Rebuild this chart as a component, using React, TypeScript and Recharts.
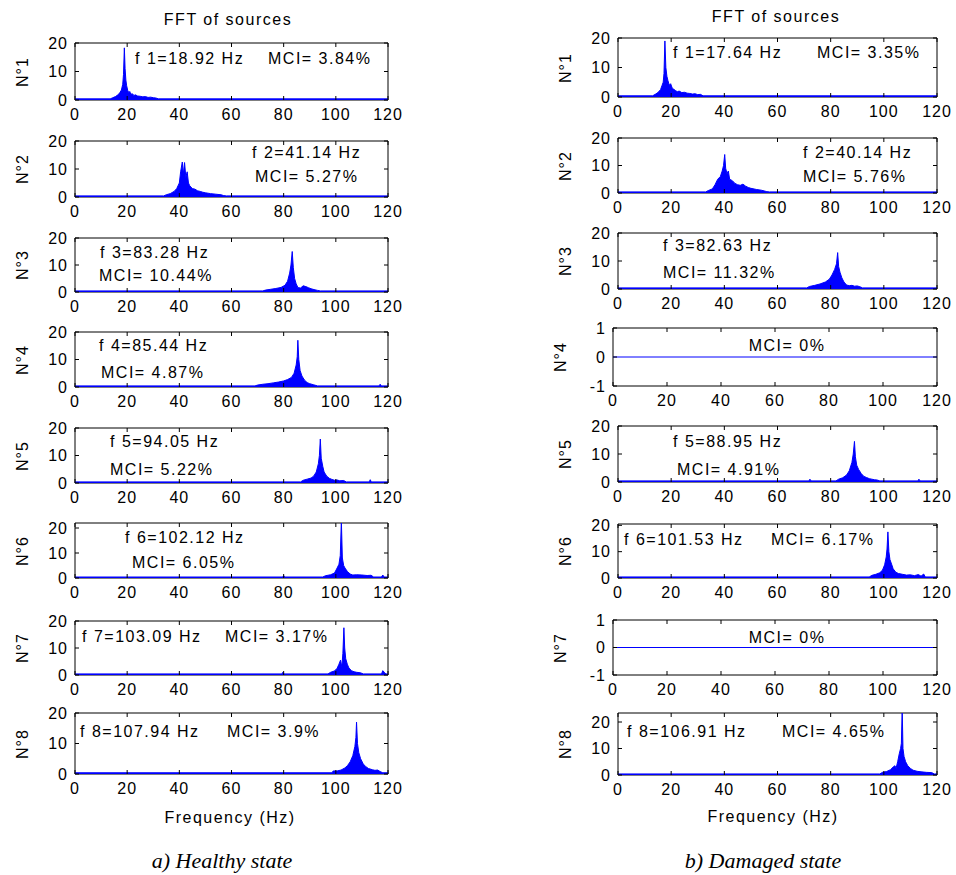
import React from 'react'
import { Area, AreaChart, ReferenceArea, XAxis, YAxis } from 'recharts'

type Pt = [number, number]

interface Note {
  text: string
  dx: number
  cy: number
  center?: boolean
}

// axis ticks
const freqTicks = [0, 20, 40, 60, 80, 100, 120]
const ampTicks = [0, 10, 20]
const flatTicks = [-1, 0, 1]

// spectra, [frequency (Hz), amplitude]
const healthy1: Pt[] = [
  [0, 0.4], [13.5, 0.4], [14.5, 0.8], [15.5, 1.2], [16.5, 1.8], [17.2, 2.6], [17.8, 3.5], [18.3, 5.5],
  [18.6, 9], [18.92, 18.3], [19.2, 11], [19.5, 7], [19.8, 5], [20.2, 3.4], [20.6, 2.6], [21, 3],
  [21.4, 2], [22, 2.2], [22.6, 1.6], [23.2, 1.8], [24, 1.4], [25, 1.3], [26, 1.1], [27, 1.2],
  [28, 0.9], [29, 1], [30, 0.8], [31, 0.7], [32, 0.4], [120, 0.4],
]
const healthy2: Pt[] = [
  [0, 0.4], [34, 0.4], [35, 0.8], [36.5, 1.2], [38, 2], [39, 3], [40, 5], [40.5, 9], [41.14, 12.5],
  [41.5, 8], [42, 12.3], [42.5, 7], [43, 9], [43.5, 5], [44, 4], [45, 3], [46, 2.8], [47, 2.2],
  [48, 2], [49, 1.7], [50, 1.5], [52, 1.2], [54, 1], [56, 0.8], [57, 0.5], [58, 0.4], [120, 0.4],
]
const healthy3: Pt[] = [
  [0, 0.4], [72, 0.4], [73, 0.7], [75, 1], [77, 1.3], [79, 1.7], [80.5, 2.5], [81.5, 4], [82.3, 7],
  [82.8, 10], [83.28, 15], [83.7, 9], [84.2, 5], [84.8, 3], [85.5, 1.6], [86.5, 1.5], [87.5, 2.3],
  [88.5, 2], [89.5, 1.6], [90.5, 1.2], [92, 0.8], [93, 0.6], [94, 0.4], [120, 0.4],
]
const healthy4: Pt[] = [
  [0, 0.4], [69, 0.4], [70, 0.7], [72, 1], [74, 1.2], [76, 1.5], [78, 1.8], [80, 2.2], [81.5, 2.7],
  [83, 3.5], [84, 5], [84.8, 8], [85.2, 11], [85.44, 17], [85.8, 10], [86.3, 6], [87, 4], [88, 2.5],
  [89, 1.6], [90, 1.2], [91.5, 0.8], [93, 0.4], [116.5, 0.4], [117, 1], [117.5, 0.4], [120, 0.4],
]
const healthy5: Pt[] = [
  [0, 0.4], [86.5, 0.4], [87.5, 1], [89, 1.4], [90.5, 1.8], [91.5, 2.5], [92.5, 4], [93.3, 7],
  [93.7, 10], [94.05, 16], [94.4, 9], [95, 6], [95.5, 4], [96.5, 2.5], [97.5, 1.7], [98.5, 1.3],
  [99.5, 1], [100.5, 1.1], [101.5, 0.8], [103, 0.9], [104, 0.4], [112.8, 0.4], [113.2, 1.2],
  [113.6, 0.4], [120, 0.4],
]
const healthy6: Pt[] = [
  [0, 0.4], [79.6, 0.4], [80, 0.9], [80.4, 0.4], [95, 0.4], [96, 0.9], [98, 1.3], [99.5, 2],
  [100.5, 4], [101.2, 5.5], [101.7, 9], [102.12, 23], [102.5, 8], [103, 5], [103.5, 4], [104.5, 2.5],
  [105.5, 1.6], [106.5, 1.2], [108, 1.3], [110, 1.2], [112, 1], [113.5, 1.1], [114.5, 0.4],
  [117.5, 0.4], [118, 1.2], [118.5, 0.4], [120, 0.4],
]
const healthy7: Pt[] = [
  [0, 0.4], [79.3, 0.4], [79.7, 1], [80.1, 0.4], [97, 0.4], [98, 1], [99.5, 1.5], [100.5, 2.5],
  [101.2, 4], [101.8, 5.5], [102.3, 3], [102.7, 8], [103.09, 17.5], [103.4, 10], [103.8, 6],
  [104.4, 4], [105, 2.6], [106, 1.6], [107, 1.2], [108, 1], [109.5, 0.8], [110.5, 0.4], [117.5, 0.4],
  [118, 1.6], [118.6, 1], [119.2, 0.4], [120, 0.4],
]
const healthy8: Pt[] = [
  [0, 0.4], [98.5, 0.4], [99, 1], [100.5, 1], [102, 1.3], [103.5, 2], [104.5, 2.8], [105.5, 4],
  [106.5, 6], [107.3, 9], [107.7, 12], [107.94, 17], [108.3, 10], [108.8, 7], [109.5, 5], [110.5, 3.3],
  [111.5, 2.4], [112.5, 1.8], [114, 1.4], [115, 1.2], [116, 1.3], [117, 0.8], [118, 0.4], [120, 0.4],
]

const damaged1: Pt[] = [
  [0, 0.4], [13, 0.4], [14, 0.9], [15, 1.5], [16, 2.5], [16.6, 4], [17, 5], [17.3, 8], [17.64, 19],
  [18, 10], [18.4, 7], [18.8, 5.5], [19.3, 4], [19.8, 4.5], [20.4, 3], [21, 2.6], [21.6, 2.2],
  [22.3, 1.8], [23, 2], [24, 1.5], [25, 1.6], [26, 1.3], [27, 1.2], [28, 1], [29, 1.1], [30, 0.8],
  [31, 0.9], [32, 0.4], [120, 0.4],
]
const damaged2: Pt[] = [
  [0, 0.4], [33, 0.4], [34, 0.9], [35.5, 1.5], [36.5, 3], [37.5, 5], [38.5, 6], [39.2, 8], [39.7, 10],
  [40.14, 14], [40.5, 9], [41, 7], [41.5, 8], [42, 5], [43, 4.5], [44, 3.5], [45, 3], [46, 2.8],
  [47, 3.2], [48, 2.5], [49, 2], [50, 1.7], [52, 1.3], [54, 1], [56, 0.5], [57, 0.4], [120, 0.4],
]
const damaged3: Pt[] = [
  [0, 0.4], [71, 0.4], [72, 0.9], [74, 1.3], [76, 1.8], [78, 2.5], [79.5, 3.5], [80.5, 5], [81.5, 7],
  [82.2, 9], [82.63, 13], [83, 8], [83.5, 6], [84.2, 4], [85, 2.5], [86, 1.4], [87, 1.2], [88, 1.3],
  [89, 1], [90, 1.1], [91, 0.8], [92, 0.4], [120, 0.4],
]
const damaged4: Pt[] = [[0, 0], [120, 0]]
const damaged5: Pt[] = [
  [0, 0.4], [71.8, 0.4], [72.2, 1], [72.6, 0.4], [82, 0.4], [83, 1], [84.5, 1.5], [86, 2.5], [87, 4],
  [88, 7], [88.5, 10], [88.95, 14.5], [89.3, 9], [89.8, 6], [90.5, 4.5], [91.5, 3], [92.5, 2],
  [93.5, 1.6], [94.5, 1.2], [95.5, 1], [96.5, 0.8], [97.5, 0.7], [98.5, 0.4], [112.8, 0.4],
  [113.2, 1], [113.6, 0.4], [120, 0.4],
]
const damaged6: Pt[] = [
  [0, 0.4], [94.5, 0.4], [95.5, 1], [97, 1.4], [98.5, 2], [99.5, 3], [100.3, 5], [100.9, 8],
  [101.2, 11], [101.53, 17.5], [101.9, 10], [102.3, 7], [103, 5], [103.5, 3.5], [104.5, 2.2],
  [105.5, 1.7], [107, 1.4], [108.5, 1.1], [110, 1.2], [111.5, 0.9], [113, 1.3], [114, 0.7],
  [115, 1.5], [115.6, 0.4], [120, 0.4],
]
const damaged7: Pt[] = [[0, 0], [120, 0]]
const damaged8: Pt[] = [
  [0, 0.4], [98.5, 0.4], [99.5, 1], [101, 1.3], [102.5, 2], [103.5, 3], [104.2, 3.5], [104.6, 2.5],
  [105.2, 5], [105.8, 8], [106.3, 10], [106.6, 12], [106.91, 25], [107.2, 10], [107.6, 7], [108.2, 5],
  [109, 3.5], [110, 2.5], [111, 1.8], [112.5, 1.4], [114, 1.2], [116, 1], [118, 0.9], [119, 0.4],
  [120, 0.4],
]

const healthySeries = [healthy1, healthy2, healthy3, healthy4, healthy5, healthy6, healthy7, healthy8]
const damagedSeries = [damaged1, damaged2, damaged3, damaged4, damaged5, damaged6, damaged7, damaged8]

const sourceNames = ['N°1', 'N°2', 'N°3', 'N°4', 'N°5', 'N°6', 'N°7', 'N°8']
const healthyFreqLabels = ['f 1=18.92 Hz', 'f 2=41.14 Hz', 'f 3=83.28 Hz', 'f 4=85.44 Hz', 'f 5=94.05 Hz', 'f 6=102.12 Hz', 'f 7=103.09 Hz', 'f 8=107.94 Hz']
const healthyMciLabels = ['MCI= 3.84%', 'MCI= 5.27%', 'MCI= 10.44%', 'MCI= 4.87%', 'MCI= 5.22%', 'MCI= 6.05%', 'MCI= 3.17%', 'MCI= 3.9%']
const damagedFreqLabels = ['f 1=17.64 Hz', 'f 2=40.14 Hz', 'f 3=82.63 Hz', '', 'f 5=88.95 Hz', 'f 6=101.53 Hz', '', 'f 8=106.91 Hz']
const damagedMciLabels = ['MCI= 3.35%', 'MCI= 5.76%', 'MCI= 11.32%', 'MCI= 0%', 'MCI= 4.91%', 'MCI= 6.17%', 'MCI= 0%', 'MCI= 4.65%']

// layout (pixels)
const FONT = '"Liberation Sans", Arial, sans-serif'
const YW = 40
const XH = 26
const MT = 12
const MR = 18

const leftTops = [43, 141, 238, 332, 428, 523, 621, 713]
const leftBottoms = [100, 197, 292, 387, 483, 578, 675, 774]
const rightTops = [38, 138, 233, 328, 426, 524, 620, 713]
const rightBottoms = [97, 193, 289, 386, 482, 578, 675, 775]
const leftYMax = [20, 20, 20, 20, 20, 22, 20, 20]
const rightYMax = [20, 20, 20, 1, 20, 20.5, 1, 23.4]

const leftNotePos = [
  [[60, 16], [193, 16]],
  [[177, 12], [180, 36]],
  [[25, 15], [24, 38]],
  [[24, 14], [26, 41]],
  [[35, 14], [35, 42]],
  [[50, 15], [57, 40]],
  [[7, 16], [150, 16]],
  [[5, 19], [152, 19]],
]
const rightNotePos = [
  [[55, 15], [199, 15]],
  [[185, 15], [185, 39]],
  [[45, 13], [45, 40]],
  [[0, 0], [174, 18]],
  [[55, 16], [59, 44]],
  [[6, 16], [153, 16]],
  [[0, 0], [174, 18]],
  [[9, 19], [164, 19]],
]

interface TickProps {
  x?: number
  y?: number
  payload?: { value: number }
  h?: number
  w?: number
}

const XTick: React.FC<TickProps> = ({ x = 0, y = 0, payload, h = 0 }) => (
  <g>
    <line x1={x} x2={x} y1={y} y2={y - 4} stroke="#000" />
    <line x1={x} x2={x} y1={y - h} y2={y - h + 4} stroke="#000" />
    <text x={x} y={y + 20} textAnchor="middle" fill="#000" fontSize={16} fontFamily={FONT} letterSpacing={1}>
      {payload?.value}
    </text>
  </g>
)

const YTick: React.FC<TickProps> = ({ x = 0, y = 0, payload, w = 0 }) => (
  <g>
    <line x1={x} x2={x + 4} y1={y} y2={y} stroke="#000" />
    <line x1={x + w - 4} x2={x + w} y1={y} y2={y} stroke="#000" />
    <text x={x - 7} y={y} dy="0.36em" textAnchor="end" fill="#000" fontSize={16} fontFamily={FONT} letterSpacing={1}>
      {payload?.value}
    </text>
  </g>
)

interface PanelProps {
  x: number
  top: number
  w: number
  h: number
  pts: Pt[]
  domain: [number, number]
  yTicks: number[]
  name: string
  notes: Note[]
}

const Panel: React.FC<PanelProps> = ({ x, top, w, h, pts, domain, yTicks, name, notes }) => {
  const data = pts.map(([f, a]) => ({ f, a }))
  return (
    <>
      <div style={{ position: 'absolute', left: x - YW, top: top - MT }}>
        <AreaChart
          width={YW + w + MR}
          height={MT + h + XH}
          data={data}
          margin={{ top: MT, right: MR, bottom: 0, left: 0 }}
        >
          <XAxis
            dataKey="f"
            type="number"
            domain={[0, 120]}
            ticks={freqTicks}
            interval={0}
            axisLine={false}
            tickLine={false}
            tickSize={0}
            tickMargin={0}
            height={XH}
            tick={<XTick h={h} />}
            allowDataOverflow
          />
          <YAxis
            type="number"
            domain={domain}
            ticks={yTicks}
            interval={0}
            axisLine={false}
            tickLine={false}
            tickSize={0}
            tickMargin={0}
            width={YW}
            tick={<YTick w={w} />}
            allowDataOverflow
          />
          <ReferenceArea x1={0} x2={120} y1={domain[0]} y2={domain[1]} fill="none" stroke="#000" strokeWidth={1} ifOverflow="visible" />
          <Area
            type="linear"
            dataKey="a"
            stroke="#0000ff"
            strokeWidth={1}
            fill="#0000ff"
            fillOpacity={1}
            baseValue={0}
            dot={false}
            activeDot={false}
            isAnimationActive={false}
          />
        </AreaChart>
      </div>
      <div
        style={{
          position: 'absolute',
          left: x - 92,
          top: top + h / 2 - 10,
          width: 80,
          height: 20,
          lineHeight: '20px',
          textAlign: 'center',
          transform: 'rotate(-90deg)',
          fontFamily: FONT,
          fontSize: 16,
          letterSpacing: 1,
        }}
      >
        {name}
      </div>
      {notes.filter((n) => n.text).map((n, i) => (
        <div
          key={i}
          style={{
            position: 'absolute',
            left: n.center ? x + n.dx - 100 : x + n.dx,
            width: n.center ? 200 : undefined,
            textAlign: n.center ? 'center' : 'left',
            top: top + n.cy - 10,
            lineHeight: '20px',
            fontFamily: FONT,
            fontSize: 16,
            letterSpacing: 1.5,
            whiteSpace: 'nowrap',
          }}
        >
          {n.text}
        </div>
      ))}
    </>
  )
}

const textStyle: React.CSSProperties = {
  position: 'absolute',
  width: 300,
  textAlign: 'center',
  fontFamily: FONT,
  fontSize: 16,
  letterSpacing: 1.5,
  lineHeight: '20px',
}

const captionStyle: React.CSSProperties = {
  position: 'absolute',
  width: 300,
  textAlign: 'center',
  fontFamily: '"Liberation Serif", "Times New Roman", serif',
  fontStyle: 'italic',
  fontSize: 22,
  lineHeight: '26px',
}

const App: React.FC = () => {
  return (
    <div style={{ position: 'absolute', left: 0, top: 0, width: 956, height: 875, background: '#fff', overflow: 'hidden' }}>
      <div style={{ ...textStyle, left: 228 - 150, top: 20 - 10 }}>FFT of sources</div>
      <div style={{ ...textStyle, left: 776 - 150, top: 17 - 10 }}>FFT of sources</div>

      {healthySeries.map((pts, i) => (
        <Panel
          key={`h${i}`}
          x={75}
          top={leftTops[i]}
          w={313}
          h={leftBottoms[i] - leftTops[i]}
          pts={pts}
          domain={[0, leftYMax[i]]}
          yTicks={ampTicks}
          name={sourceNames[i]}
          notes={[
            { text: healthyFreqLabels[i], dx: leftNotePos[i][0][0], cy: leftNotePos[i][0][1] },
            { text: healthyMciLabels[i], dx: leftNotePos[i][1][0], cy: leftNotePos[i][1][1] },
          ]}
        />
      ))}

      {damagedSeries.map((pts, i) => {
        const flat = rightYMax[i] === 1
        const x = flat ? 613 : 618
        return (
          <Panel
            key={`d${i}`}
            x={x}
            top={rightTops[i]}
            w={937 - x}
            h={rightBottoms[i] - rightTops[i]}
            pts={pts}
            domain={flat ? [-1, 1] : [0, rightYMax[i]]}
            yTicks={flat ? flatTicks : ampTicks}
            name={sourceNames[i]}
            notes={[
              { text: damagedFreqLabels[i], dx: rightNotePos[i][0][0], cy: rightNotePos[i][0][1] },
              { text: damagedMciLabels[i], dx: rightNotePos[i][1][0], cy: rightNotePos[i][1][1], center: flat },
            ]}
          />
        )
      })}

      <div style={{ ...textStyle, left: 230 - 150, top: 818 - 10 }}>Frequency (Hz)</div>
      <div style={{ ...textStyle, left: 773 - 150, top: 817 - 10 }}>Frequency (Hz)</div>

      <div style={{ ...captionStyle, left: 222 - 150, top: 861 - 13 }}>a) Healthy state</div>
      <div style={{ ...captionStyle, left: 763 - 150, top: 861 - 13 }}>b) Damaged state</div>
    </div>
  )
}

export default App
